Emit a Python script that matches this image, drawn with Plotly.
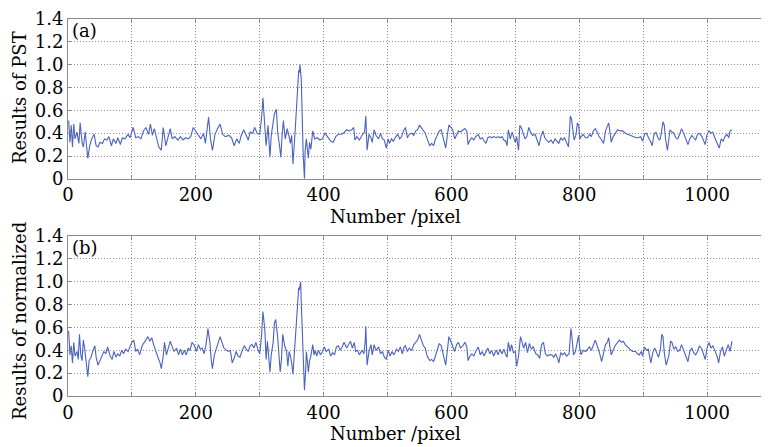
import plotly.graph_objects as go

# ---- Panel (a): Results of PST ----
pixel_a = [
    1, 3, 5, 7, 9, 11, 14, 17, 19, 22, 24, 27, 29, 31, 34, 37, 41, 44, 47, 50,
    54, 57, 61, 64, 68, 71, 75, 78, 82, 85, 89, 94, 97, 100, 102, 106, 110, 114, 118, 122,
    126, 129, 132, 135, 139, 142, 146, 149, 153, 157, 160, 163, 167, 172, 176, 180, 184, 188, 192, 196,
    200, 204, 208, 212, 215, 220, 223, 226, 230, 234, 238, 242, 246, 252, 256, 260, 264, 268, 271, 275,
    278, 282, 285, 289, 292, 296, 300, 303, 305, 308, 310, 313, 316, 318, 321, 323, 326, 328, 331, 333,
    335, 337, 340, 343,
    346, 348, 350, 352, 355, 357, 359, 361, 362, 363, 365, 366, 368, 370, 371, 373, 374, 376, 378, 380,
    383, 386, 390, 394, 398, 402, 406, 411, 415, 419, 423, 427, 431, 436, 440, 444, 447, 449, 452, 456,
    461, 464, 466, 468, 471, 474, 476, 479, 482, 486, 489, 492, 495, 498, 501, 503, 506, 509, 513, 516,
    519, 522, 525, 528, 531, 534, 538, 541, 544, 547, 550, 553, 556, 559, 562, 566, 569, 572, 575, 578,
    581, 584, 587, 591, 594, 596, 599, 602, 605, 608, 611, 614, 618, 621, 624, 626, 629, 632, 635, 638,
    642, 645, 648, 651, 654, 657, 660, 663, 666, 670, 673, 676, 679, 682, 685, 687, 689, 692,
    695, 698, 700, 702, 705, 707, 710, 712, 715, 718, 721, 724, 727, 731, 734, 737, 740, 743, 746, 749,
    752, 756, 759, 762, 765, 768, 771, 774, 777, 780, 783, 785, 786, 788, 790, 792, 795, 797, 799, 801,
    803, 806, 810, 813, 816, 819, 822, 825, 828, 831, 835, 838, 841, 844, 846, 848, 850, 853, 856, 860,
    864, 868, 872, 876, 880, 884, 889, 893, 896, 899, 902, 905, 908, 912, 914, 917, 920, 923, 926, 928,
    931, 933, 935, 938, 940, 942, 945, 948, 951, 954, 957, 960, 964, 967, 970, 973, 976, 979, 982, 985,
    988, 992, 995, 997, 1000, 1003, 1006, 1009, 1012, 1016, 1019, 1022, 1025, 1028, 1031, 1034, 1036, 1039,
]
pst_a = [
    0.51, 0.32, 0.47, 0.28, 0.48, 0.35, 0.41, 0.31, 0.49, 0.32, 0.28, 0.41, 0.29, 0.18, 0.29, 0.35, 0.39, 0.29, 0.28, 0.32,
    0.31, 0.35, 0.34, 0.37, 0.29, 0.35, 0.31, 0.36, 0.30, 0.36, 0.35, 0.39, 0.36, 0.43, 0.45, 0.36, 0.37, 0.35, 0.42, 0.45,
    0.39, 0.48, 0.38, 0.44, 0.34, 0.28, 0.25, 0.45, 0.29, 0.39, 0.44, 0.35, 0.37, 0.34, 0.37, 0.34, 0.36, 0.35, 0.37, 0.45,
    0.42, 0.38, 0.35, 0.40, 0.31, 0.54, 0.35, 0.25, 0.39, 0.44, 0.48, 0.39, 0.37, 0.38, 0.36, 0.29, 0.35, 0.31, 0.38, 0.43,
    0.39, 0.34, 0.41, 0.40, 0.45, 0.40, 0.39, 0.54, 0.71, 0.47, 0.29, 0.47, 0.19, 0.38, 0.52, 0.57, 0.61, 0.41, 0.29, 0.19,
    0.38, 0.51, 0.35, 0.44,
    0.37, 0.31, 0.38, 0.13, 0.38, 0.58, 0.78, 0.95, 0.93, 1.00, 0.87, 0.55, 0.21, 0.00, 0.24, 0.35, 0.26, 0.18, 0.32, 0.26,
    0.42, 0.35, 0.36, 0.34, 0.35, 0.40, 0.37, 0.33, 0.32, 0.37, 0.39, 0.39, 0.40, 0.43, 0.42, 0.43, 0.45, 0.34, 0.37, 0.34,
    0.39, 0.41, 0.55, 0.25, 0.39, 0.36, 0.32, 0.43, 0.38, 0.35, 0.40, 0.35, 0.34, 0.27, 0.35, 0.31, 0.35, 0.33, 0.37, 0.39,
    0.35, 0.37, 0.42, 0.45, 0.36, 0.39, 0.40, 0.38, 0.42, 0.43, 0.47, 0.45, 0.42, 0.40, 0.35, 0.29, 0.31, 0.29, 0.35, 0.39,
    0.42, 0.43, 0.35, 0.27, 0.40, 0.47, 0.45, 0.43, 0.35, 0.39, 0.42, 0.41, 0.43, 0.44, 0.42, 0.30, 0.34, 0.36, 0.34, 0.37,
    0.39, 0.35, 0.36, 0.33, 0.31, 0.36, 0.37, 0.36, 0.37, 0.36, 0.37, 0.36, 0.37, 0.34, 0.33, 0.29, 0.43, 0.35,
    0.41, 0.35, 0.32, 0.37, 0.25, 0.47, 0.44, 0.40, 0.35, 0.37, 0.45, 0.41, 0.38, 0.39, 0.34, 0.29, 0.37, 0.42, 0.36, 0.34,
    0.32, 0.34, 0.31, 0.35, 0.33, 0.31, 0.36, 0.34, 0.36, 0.32, 0.28, 0.44, 0.55, 0.52, 0.42, 0.34, 0.39, 0.49, 0.47, 0.35,
    0.37, 0.39, 0.36, 0.36, 0.39, 0.37, 0.42, 0.44, 0.41, 0.37, 0.34, 0.31, 0.42, 0.47, 0.49, 0.41, 0.32, 0.37, 0.40, 0.43,
    0.42, 0.42, 0.40, 0.39, 0.38, 0.37, 0.36, 0.36, 0.37, 0.33, 0.39, 0.40, 0.37, 0.32, 0.29, 0.39, 0.41, 0.36, 0.34, 0.39,
    0.50, 0.47, 0.35, 0.25, 0.34, 0.43, 0.41, 0.40, 0.36, 0.35, 0.39, 0.44, 0.39, 0.35, 0.30, 0.35, 0.38, 0.36, 0.34, 0.39,
    0.40, 0.37, 0.32, 0.30, 0.39, 0.42, 0.40, 0.41, 0.36, 0.31, 0.27, 0.35, 0.33, 0.37, 0.39, 0.36, 0.42, 0.43,
]

# ---- Panel (b): Results of normalized ----
pixel_b = [
    1, 3, 5, 7, 9, 11, 14, 16, 18, 20, 22, 24, 26, 28, 31, 33, 36, 38, 42, 44,
    47, 50, 53, 56, 59, 62, 66, 69, 72, 75, 78, 81, 84, 87, 90, 94, 97, 100, 103, 106,
    109, 112, 116, 119, 122, 125, 128, 131, 134, 137, 140, 144, 146, 149, 151, 154, 157, 160, 163, 166,
    170, 173, 176, 179, 182, 185, 188, 191, 194, 198, 201, 204, 207, 210, 213, 216, 219, 222, 224, 226,
    229, 232, 235, 238, 241, 244, 248, 251, 254, 257, 260, 263, 266, 269, 272, 276, 279, 282, 285, 288,
    291, 294, 297, 300, 303, 305, 308, 310, 312, 314, 316, 318, 321, 323, 325, 328, 330, 332, 334, 336,
    339, 342, 344,
    346, 348, 350, 352, 354, 357, 359, 361, 362, 364, 365, 367, 369, 370, 372, 373, 375, 376, 378, 380,
    383, 385, 387, 389, 392, 395, 398, 401, 404, 408, 411, 414, 417, 420, 423, 426, 429, 432, 436, 439,
    442, 445, 448, 450, 453, 456, 460, 463, 465, 466, 468, 471, 474, 476, 479, 482, 486, 489, 492, 495,
    498, 501, 504, 507, 510, 514, 517, 520, 523, 526, 528, 531, 534, 538, 541, 544, 547, 550, 553, 556,
    559, 562, 566, 569, 572, 575, 578, 581, 584, 587, 591, 594, 596, 599, 602, 605, 608, 611, 614, 618,
    621, 624, 626, 629, 632, 635, 638, 642, 645, 648, 651, 654, 657, 660, 663, 666, 670, 673, 676, 679,
    682, 685, 687, 689, 692,
    694, 697, 700, 702, 705, 708, 710, 713, 716, 719, 722, 725, 728, 732, 735, 738, 741, 744, 747, 750,
    753, 757, 760, 763, 766, 768, 771, 774, 777, 780, 784, 786, 787, 789, 791, 794, 797, 799, 801, 803,
    806, 810, 813, 816, 819, 822, 825, 828, 831, 835, 838, 841, 844, 846, 848, 850, 853, 856, 860, 863,
    866, 869, 872, 875, 878, 881, 884, 888, 891, 894, 897, 899, 902, 905, 908, 912, 915, 918, 921, 924,
    927, 929, 931, 933, 936, 940, 943, 945, 948, 951, 954, 957, 960, 964, 967, 970, 973, 976, 979, 982,
    985, 988, 992, 995, 997, 1000, 1003, 1006, 1009, 1012, 1016, 1018, 1021, 1024, 1027, 1030, 1033, 1036, 1039,
]
norm_b = [
    0.57, 0.36, 0.44, 0.29, 0.47, 0.35, 0.39, 0.32, 0.54, 0.36, 0.31, 0.49, 0.42, 0.29, 0.17, 0.31, 0.34, 0.38, 0.44, 0.34,
    0.27, 0.31, 0.35, 0.39, 0.37, 0.43, 0.35, 0.32, 0.39, 0.34, 0.37, 0.35, 0.40, 0.37, 0.41, 0.39, 0.43, 0.47, 0.49, 0.39,
    0.41, 0.36, 0.44, 0.47, 0.49, 0.52, 0.48, 0.51, 0.45, 0.39, 0.35, 0.29, 0.24, 0.35, 0.47, 0.36, 0.42, 0.48, 0.43, 0.39,
    0.42, 0.36, 0.41, 0.36, 0.40, 0.36, 0.42, 0.40, 0.47, 0.44, 0.39, 0.45, 0.41, 0.42, 0.37, 0.45, 0.59, 0.47, 0.32, 0.24,
    0.36, 0.42, 0.47, 0.52, 0.47, 0.42, 0.40, 0.39, 0.40, 0.29, 0.33, 0.39, 0.35, 0.34, 0.39, 0.44, 0.41, 0.39, 0.44, 0.45,
    0.42, 0.47, 0.41, 0.37, 0.54, 0.74, 0.58, 0.32, 0.48, 0.35, 0.21, 0.36, 0.47, 0.64, 0.67, 0.52, 0.34, 0.21, 0.32, 0.54,
    0.44, 0.39, 0.26,
    0.39, 0.35, 0.29, 0.19, 0.38, 0.58, 0.78, 0.95, 0.93, 1.00, 0.82, 0.55, 0.24, 0.05, 0.24, 0.39, 0.28, 0.21, 0.31, 0.35,
    0.45, 0.36, 0.40, 0.35, 0.40, 0.36, 0.39, 0.43, 0.39, 0.41, 0.35, 0.38, 0.36, 0.43, 0.44, 0.40, 0.43, 0.47, 0.42, 0.45,
    0.48, 0.42, 0.47, 0.39, 0.40, 0.36, 0.40, 0.37, 0.48, 0.61, 0.27, 0.39, 0.45, 0.36, 0.45, 0.40, 0.43, 0.37, 0.39, 0.34,
    0.32, 0.40, 0.35, 0.39, 0.36, 0.41, 0.39, 0.43, 0.37, 0.43, 0.44, 0.39, 0.42, 0.40, 0.45, 0.47, 0.49, 0.54, 0.49, 0.44,
    0.42, 0.35, 0.31, 0.32, 0.30, 0.36, 0.42, 0.46, 0.44, 0.36, 0.27, 0.42, 0.52, 0.48, 0.44, 0.39, 0.45, 0.47, 0.42, 0.44,
    0.47, 0.43, 0.31, 0.35, 0.37, 0.35, 0.39, 0.43, 0.36, 0.39, 0.35, 0.38, 0.42, 0.37, 0.40, 0.35, 0.40, 0.36, 0.41, 0.37,
    0.41, 0.36, 0.34, 0.47, 0.39,
    0.45, 0.38, 0.39, 0.26, 0.35, 0.52, 0.48, 0.42, 0.47, 0.38, 0.46, 0.41, 0.43, 0.37, 0.36, 0.33, 0.45, 0.47, 0.37, 0.35,
    0.36, 0.36, 0.34, 0.37, 0.33, 0.29, 0.38, 0.36, 0.38, 0.35, 0.37, 0.49, 0.59, 0.49, 0.36, 0.39, 0.47, 0.53, 0.41, 0.36,
    0.40, 0.39, 0.41, 0.43, 0.40, 0.44, 0.49, 0.44, 0.39, 0.30, 0.39, 0.45, 0.47, 0.51, 0.43, 0.36, 0.40, 0.44, 0.47, 0.49,
    0.47, 0.48, 0.45, 0.43, 0.41, 0.40, 0.39, 0.39, 0.37, 0.36, 0.39, 0.35, 0.43, 0.40, 0.41, 0.29, 0.38, 0.42, 0.38, 0.34,
    0.41, 0.54, 0.52, 0.38, 0.27, 0.35, 0.48, 0.47, 0.41, 0.43, 0.39, 0.40, 0.45, 0.39, 0.36, 0.30, 0.39, 0.42, 0.38, 0.36,
    0.39, 0.44, 0.41, 0.34, 0.32, 0.42, 0.47, 0.42, 0.44, 0.40, 0.34, 0.29, 0.39, 0.43, 0.35, 0.40, 0.45, 0.39, 0.48,
]

y_tickvals = [0, 0.2, 0.4, 0.6, 0.8, 1.0, 1.2, 1.4]
y_ticktext = ["0", "0.2", "0.4", "0.6", "0.8", "1.0", "1.2", "1.4"]
x_tickvals = [0, 100, 200, 300, 400, 500, 600, 700, 800, 900, 1000]
x_ticktext = ["0", "", "200", "", "400", "", "600", "", "800", "", "1000"]

LINE = "#4a62c0"
FRAME = "#8c8c8c"
GRID = "#8f8f8f"
FONT = "DejaVu Serif"

fig = go.Figure()
fig.add_trace(go.Scatter(x=pixel_a, y=pst_a, mode="lines",
                         line=dict(color=LINE, width=1.1), xaxis="x", yaxis="y", showlegend=False))
fig.add_trace(go.Scatter(x=pixel_b, y=norm_b, mode="lines",
                         line=dict(color=LINE, width=1.1), xaxis="x2", yaxis="y2", showlegend=False))

common_x = dict(range=[0, 1095.3], tickvals=x_tickvals, ticktext=x_ticktext,
                showgrid=True, gridcolor=GRID, griddash="1px,2px", gridwidth=1,
                showline=True, linecolor=FRAME, linewidth=1, mirror="ticks",
                ticks="inside", ticklen=4, tickcolor=FRAME,
                tickfont=dict(family=FONT, size=18, color="black"), zeroline=False)
common_y = dict(range=[0, 1.4], tickvals=y_tickvals, ticktext=y_ticktext,
                showgrid=True, gridcolor=GRID, griddash="1px,2px", gridwidth=1,
                showline=True, linecolor=FRAME, linewidth=1, mirror="ticks",
                ticks="inside", ticklen=4, tickcolor=FRAME,
                tickfont=dict(family=FONT, size=18, color="black"), zeroline=False)

# The page body has an 8px margin, so the figure is 8px smaller and offset.
fig.update_layout(
    width=761, height=439,
    margin=dict(l=60, r=0, t=6, b=51),
    paper_bgcolor="white", plot_bgcolor="white",
    xaxis=dict(domain=[0, 1], anchor="y", **common_x),
    yaxis=dict(domain=[0.576, 1], anchor="x", **common_y),
    xaxis2=dict(domain=[0, 1], anchor="y2", **common_x),
    yaxis2=dict(domain=[0, 0.424], anchor="x2", **common_y),
    font=dict(family=FONT, color="black"),
)

ann_font = dict(family=FONT, size=18, color="black")
annotations = [
    dict(text="Number /pixel", x=(396 - 68) / 701, y=(396 - 214) / 382),
    dict(text="Number /pixel", x=(396 - 68) / 701, y=(396 - 434) / 382),
    dict(text="Results of PST", x=(20 - 68) / 701, y=(396 - 94) / 382, textangle=-90),
    dict(text="Results of normalized", x=(20 - 68) / 701, y=(396 - 320) / 382, textangle=-90),
    dict(text="(a)", x=(85 - 68) / 701, y=(396 - 26) / 382),
    dict(text="(b)", x=(85 - 68) / 701, y=(396 - 246) / 382),
]
for a in annotations:
    fig.add_annotation(xref="paper", yref="paper", showarrow=False,
                       xanchor="center", yanchor="middle", font=ann_font, **a)

fig.write_html("out.html")
